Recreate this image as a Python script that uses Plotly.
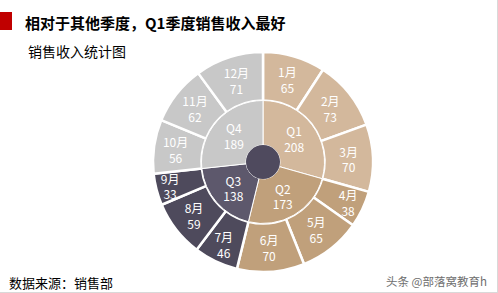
import plotly.graph_objects as go

quarters = ["Q1", "Q2", "Q3", "Q4"]
quarter_values = [208, 173, 138, 189]
months = ["1月", "2月", "3月", "4月", "5月", "6月", "7月", "8月", "9月", "10月", "11月", "12月"]
month_values = [65, 73, 70, 38, 65, 70, 46, 59, 33, 56, 62, 71]

quarter_colors = ["#d3b89c", "#c0a07b", "#5d586c", "#c8c8c8"]
month_colors = ["#d3b89c"] * 3 + ["#c0a07b"] * 3 + ["#4e4a5c"] * 3 + ["#c8c8c8"] * 3

W, H = 498, 293
cx, cy = 263, 162  # center in pixels (from top)
R_out, R_mid, R_in = 110, 61.5, 17


def dom(r):
    return dict(x=[(cx - r) / W, (cx + r) / W], y=[(H - cy - r) / H, (H - cy + r) / H])


font_family = "Noto Sans CJK SC, Microsoft YaHei, sans-serif"

fig = go.Figure()
fig.add_trace(go.Pie(
    values=month_values,
    text=[f"{m}<br>{v}" for m, v in zip(months, month_values)],
    textinfo="text",
    textposition="inside",
    insidetextorientation="horizontal",
    sort=False,
    direction="clockwise",
    rotation=0,
    hole=R_mid / R_out,
    domain=dom(R_out),
    marker=dict(colors=month_colors, line=dict(color="white", width=2.5)),
    textfont=dict(color="white", size=12, family=font_family),
    showlegend=False,
    hoverinfo="skip",
))
fig.add_trace(go.Pie(
    values=quarter_values,
    text=[f"{q}<br>{v}" for q, v in zip(quarters, quarter_values)],
    textinfo="text",
    textposition="inside",
    insidetextorientation="horizontal",
    sort=False,
    direction="clockwise",
    rotation=0,
    hole=R_in / R_mid,
    domain=dom(R_mid),
    marker=dict(colors=quarter_colors, line=dict(color="white", width=1)),
    textfont=dict(color="white", size=12, family=font_family),
    showlegend=False,
    hoverinfo="skip",
))
fig.add_trace(go.Pie(
    values=[1],
    textinfo="none",
    domain=dom(R_in),
    marker=dict(colors=["#4f4a5e"], line=dict(width=0)),
    showlegend=False,
    hoverinfo="skip",
))

fig.add_shape(type="rect", xref="paper", yref="paper",
              x0=0, x1=12 / W, y0=1 - 30 / H, y1=1 - 12 / H,
              fillcolor="#c00000", line=dict(width=0))
fig.add_shape(type="line", xref="paper", yref="paper",
              x0=1 - 0.5 / W, x1=1 - 0.5 / W, y0=0, y1=1,
              line=dict(color="#d9d9d9", width=1))
fig.add_shape(type="line", xref="paper", yref="paper",
              x0=0, x1=1, y0=0.5 / H, y1=0.5 / H,
              line=dict(color="#d9d9d9", width=1))

fig.add_annotation(text="<b>相对于其他季度，Q1季度销售收入最好</b>", xref="paper", yref="paper",
                   x=23 / W, y=1 - 22 / H, xanchor="left", yanchor="middle", showarrow=False,
                   font=dict(size=15, color="#000000", family=font_family))
fig.add_annotation(text="销售收入统计图", xref="paper", yref="paper",
                   x=26 / W, y=1 - 51 / H, xanchor="left", yanchor="middle", showarrow=False,
                   font=dict(size=14, color="#000000", family=font_family))
fig.add_annotation(text="数据来源：销售部", xref="paper", yref="paper",
                   x=7 / W, y=1 - 282 / H, xanchor="left", yanchor="middle", showarrow=False,
                   font=dict(size=13, color="#000000", family=font_family))
fig.add_annotation(text="头条 @部落窝教育h", xref="paper", yref="paper",
                   x=489 / W, y=1 - 281 / H, xanchor="right", yanchor="middle", showarrow=False,
                   font=dict(size=11.5, color="#6e6e6e", family=font_family))

fig.update_layout(
    width=W, height=H,
    margin=dict(l=0, r=0, t=0, b=0),
    paper_bgcolor="white", plot_bgcolor="white",
    uniformtext=dict(minsize=12, mode="show"),
)

fig.write_html("out.html")
